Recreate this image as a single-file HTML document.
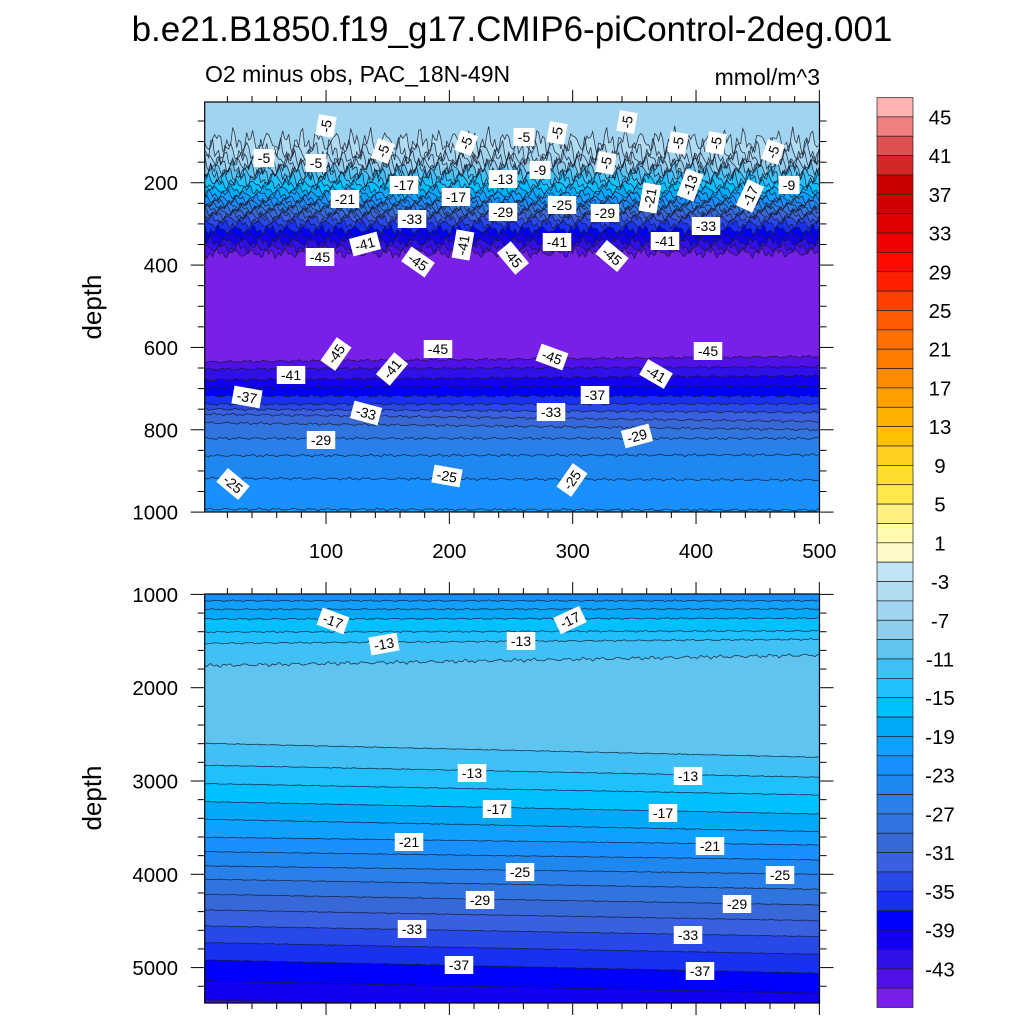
<!DOCTYPE html>
<html><head><meta charset="utf-8">
<style>
html,body{margin:0;padding:0;background:#fff;}
svg{display:block;font-family:"Liberation Sans",Arial,sans-serif;}
</style></head>
<body>
<svg id="chart" width="1024" height="1024" viewBox="0 0 1024 1024" xmlns="http://www.w3.org/2000/svg">
  <text x="512" y="41" font-size="35" text-anchor="middle">b.e21.B1850.f19_g17.CMIP6-piControl-2deg.001</text>
  <text x="205" y="82" font-size="23">O2 minus obs, PAC_18N-49N</text>
  <text x="820" y="85" font-size="23" text-anchor="end">mmol/m^3</text>
  <text x="101" y="307" font-size="26" text-anchor="middle" transform="rotate(-90 101 307)">depth</text>
  <text x="101" y="798" font-size="26" text-anchor="middle" transform="rotate(-90 101 798)">depth</text>
  <g id="gTop"></g>
  <g id="gBot"></g>
  <g id="gCb"></g>
</svg>
<script>
// ---- data ----
const cbColors = ["#ffb3b3","#f08080","#e05050","#d42828","#c80000","#d00000","#e00000","#f00000","#ff0a00","#ff2000","#ff4000","#ff5a00","#ff7000","#ff7c00","#ff8c00","#ffa000","#ffb000","#ffc000","#ffd020","#ffde30","#ffe84a","#fff080","#fffab0","#fffac8","#c0e4f4","#b0dcf2","#a0d4f0","#90ccec","#60c4f0","#40c0f4","#20c0ff","#00c0ff","#00aaf8","#10a0ff","#1890ff","#1e88f0","#2880e8","#3074e0","#3868d8","#3860e0","#2848e8","#1830f0","#0000ff","#1400f0","#3010e8","#5010e8","#7820e8"];
const cbLabels = [45,41,37,33,29,25,21,17,13,9,5,1,-3,-7,-11,-15,-19,-23,-27,-31,-35,-39,-43];

const topAbove = -5.5;
const topLevels = [-5,-5,-5,-7,-9,-11,-13,-15,-17,-19,-21,-23,-25,-27,-29,-31,-33,-35,-37,-39,-41,-43,-45,-45,-43,-41,-39,-37,-35,-33,-31,-29,-27,-25,-23,-21];
const topDepthL = [100,125,142,155,167,179,190,204,217,229,240,248,256,263,271,279,288,300,314,329,344,358,372,635,653,679,698,718,738,750,762,783,821,863,918,993];
const topDepthR = [100,125,142,155,167,179,190,204,217,229,240,248,256,263,271,279,288,300,314,329,344,358,370,622,647,669,694,718,737,758,780,800,821,861,922,995];
const topBelow = [-4,-6,-6,-8,-10,-12,-14,-16,-18,-20,-22,-24,-26,-28,-30,-32,-34,-36,-38,-40,-42,-44,-46,-44,-42,-40,-38,-36,-34,-32,-30,-28,-26,-24,-22,-20];

const botAbove = -22;
const botLevels = [-21,-19,-17,-15,-13,-11,-11,-13,-15,-17,-19,-21,-23,-25,-27,-29,-31,-33,-35,-37,-39,-41];
const botDepthL = [1068,1160,1264,1403,1525,1764,2596,2831,3028,3221,3410,3603,3757,3910,4053,4214,4382,4553,4732,4918,5143,5347];
const botDepthR = [1068,1156,1256,1392,1481,1650,2746,2960,3150,3354,3543,3686,3846,4000,4161,4329,4497,4668,4857,5061,5275,5480];
const botBelow = [-20,-18,-16,-14,-12,-10,-12,-14,-16,-18,-20,-22,-24,-26,-28,-30,-32,-34,-36,-38,-40,-42];

const xTickValues = [100,200,300,400,500];
const topYTicks = [200,400,600,800,1000];
const botYTicks = [1000,2000,3000,4000,5000];

// contour label layout: [px, py, text, rotation]
const topLabelLayout = [[326,126,"-5",-80],[264,158,"-5",0],[316,163,"-5",0],[383,151,"-5",-70],[466,143,"-5",-70],[524,137,"-5",0],[557,133,"-5",-80],[627,122,"-5",-80],[606,163,"-5",-80],[678,143,"-5",-80],[716,143,"-5",-80],[773,152,"-5",-70],[345,199,"-21",0],[404,185,"-17",0],[456,197,"-17",0],[503,179,"-13",0],[540,170,"-9",0],[503,212,"-29",0],[562,205,"-25",0],[605,213,"-29",0],[650,198,"-21",-80],[690,185,"-13",-70],[750,196,"-17",-65],[789,185,"-9",0],[412,219,"-33",0],[706,226,"-33",0],[365,244,"-41",-15],[463,245,"-41",-80],[557,242,"-41",0],[665,241,"-41",0],[320,257,"-45",0],[418,262,"-45",35],[513,258,"-45",50],[612,256,"-45",40],[438,349,"-45",0],[336,354,"-45",-55],[552,357,"-45",20],[708,351,"-45",0],[392,369,"-41",-50],[291,375,"-41",0],[656,374,"-41",30],[595,395,"-37",0],[247,397,"-37",10],[366,413,"-33",15],[551,412,"-33",0],[321,440,"-29",0],[637,436,"-29",-15],[233,484,"-25",40],[447,476,"-25",10],[572,480,"-25",-55]];
const botLabelLayout = [[333,621,"-17",20],[384,644,"-13",-10],[521,641,"-13",0],[570,620,"-17",-25],[472,773,"-13",0],[497,809,"-17",0],[663,813,"-17",0],[688,776,"-13",0],[409,842,"-21",0],[710,846,"-21",0],[520,872,"-25",0],[780,875,"-25",0],[480,900,"-29",0],[737,904,"-29",0],[412,929,"-33",0],[688,935,"-33",0],[459,965,"-37",0],[700,971,"-37",0]];

// ---- geometry ----
const NS = "http://www.w3.org/2000/svg";
const X0 = 204.7, X1 = 819.5;
const xScale = v => 202.7 + v * 1.2333;
const topY = d => 100.4 + d * 0.4117;
const botY = d => 594.4 + (d - 1000) * 0.0933;
const TOP = {y0:102, y1:512, yf:topY, d0:4, d1:1000};
const BOT = {y0:594, y1:1003, yf:botY, d0:1000, d1:5375};

function el(tag, attrs, parent){
  const e = document.createElementNS(NS, tag);
  for (const k in attrs) e.setAttribute(k, attrs[k]);
  parent.appendChild(e);
  return e;
}
function colorFor(v){
  let i = Math.floor((47 - v) / 2);
  if (v > 45) i = 0;
  i = Math.max(0, Math.min(46, i));
  return cbColors[i];
}
function wig(x, i){
  return Math.sin(x*0.37+i*1.7)*0.45 + Math.sin(x*0.91+i*0.4)*0.3 + Math.sin(x*2.13+i*2.9)*0.25;
}
function linePts(P, dl, dr, i, amp){
  const pts = [];
  for (let px = X0; px <= X1 + 0.01; px += 2){
    const t = (px - X0) / (X1 - X0);
    let y = P.yf(dl + (dr - dl) * t) + amp * wig(px, i);
    y = Math.max(P.y0, Math.min(P.y1, y));
    pts.push([px, y]);
  }
  return pts;
}
function drawPanel(g, P, above, levels, dL, dR, below, ampF, name){
  const clipId = name + "-clip";
  const cp = el("clipPath", {id: clipId}, g);
  el("rect", {x:X0, y:P.y0, width:X1-X0, height:P.y1-P.y0}, cp);
  const fillG = el("g", {"clip-path":"url(#"+clipId+")"}, g);
  
  
  const bg = el("rect", {x:X0, y:P.y0, width:X1-X0, height:P.y1-P.y0, fill:colorFor(above)}, fillG);
  
  
  const lines = [];
  for (let i = 0; i < levels.length; i++){
    const pts = linePts(P, dL[i], dR[i], i, ampF(i, dL[i]));
    lines.push(pts);
    const d = "M" + pts.map(p => p[0].toFixed(1)+","+p[1].toFixed(1)).join("L") + "L"+X1+","+P.y1+"L"+X0+","+P.y1+"Z";
    const band = el("path", {d:d, fill:colorFor(below[i])}, fillG);
    
    
  }
  for (let i = 0; i < lines.length; i++){
    const d = "M" + lines[i].map(p => p[0].toFixed(1)+","+p[1].toFixed(1)).join("L");
    const ln = el("path", {d:d, fill:"none", stroke:"#1a1a2a", "stroke-width":"0.8", "stroke-opacity":"0.85"}, fillG);
    
    
  }
  const fr = el("rect", {x:X0, y:P.y0, width:X1-X0, height:P.y1-P.y0, fill:"none", stroke:"#000", "stroke-width":"1.2"}, g);
  
  
}
function drawLabels(g, layout, name){
  layout.forEach(L => {
    const lg = el("g", {transform:"translate("+L[0]+","+L[1]+") rotate("+L[3]+")"}, g);
    
    
    const w = L[2].length * 7.5 + 6;
    el("rect", {x:-w/2, y:-9, width:w, height:18, fill:"#fff"}, lg);
    const t = el("text", {x:0, y:5, "font-size":"14", "text-anchor":"middle"}, lg);
    t.textContent = L[2];
  });
}
function drawTicks(g, P, yMajor, yMinorStep, yLabels, xLabels, name){
  const tg = el("g", {stroke:"#000", "stroke-width":"1"}, g);
  
  
  for (let v = 20; v <= 500; v += 20){
    const x = xScale(v), len = (v % 100 === 0) ? 12 : 6;
    el("line", {x1:x, x2:x, y1:P.y0, y2:P.y0-len}, tg);
    el("line", {x1:x, x2:x, y1:P.y1, y2:P.y1+len}, tg);
  }
  for (let d = Math.ceil(P.d0 / yMinorStep) * yMinorStep; d <= P.d1; d += yMinorStep){
    const y = P.yf(d);
    if (y < P.y0 - 0.5 || y > P.y1 + 0.5) continue;
    const len = yMajor.includes(d) ? 14 : 7;
    el("line", {x1:X0, x2:X0-len, y1:y, y2:y}, tg);
    el("line", {x1:X1, x2:X1+len, y1:y, y2:y}, tg);
  }
  yMajor.forEach(d => {
    const t = el("text", {x:178, y:P.yf(d)+7.5, "font-size":"20.5", "text-anchor":"end"}, g);
    
    
    t.textContent = d;
  });
  if (xLabels){
    xLabels.forEach(v => {
      const t = el("text", {x:xScale(v), y:558, "font-size":"20.5", "text-anchor":"middle"}, g);
      
      
      t.textContent = v;
    });
  }
}

const gTop = document.getElementById("gTop");
drawPanel(gTop, TOP, topAbove, topLevels, topDepthL, topDepthR, topBelow,
  (i, d) => d < 130 ? 16 : (d < 200 ? 11 : (d < 400 ? 6 : 1.6)), "top");
drawLabels(gTop, topLabelLayout, "top");
drawTicks(gTop, TOP, topYTicks, 50, topYTicks, xTickValues, "top");

const gBot = document.getElementById("gBot");
drawPanel(gBot, BOT, botAbove, botLevels, botDepthL, botDepthR, botBelow,
  (i, d) => (i === 5 ? 2.2 : (d < 2000 ? 1.0 : 0.5)), "bottom");
drawLabels(gBot, botLabelLayout, "bottom");
drawTicks(gBot, BOT, botYTicks, 200, botYTicks, null, "bottom");

// colorbar
const gCb = document.getElementById("gCb");
const CB_X = 877, CB_W = 36, CB_Y0 = 97.5, CB_Y1 = 1007.5;
const boxH = (CB_Y1 - CB_Y0) / cbColors.length;
cbColors.forEach((c, i) => {
  const r = el("rect", {x:CB_X, y:CB_Y0 + i*boxH, width:CB_W, height:boxH, fill:c, stroke:"#222", "stroke-width":"0.7"}, gCb);
  
  
});
cbLabels.forEach(v => {
  const i = (45 - v) / 2 + 1;
  const t = el("text", {x:940, y:CB_Y0 + i*boxH + 7.5, "font-size":"20.5", "text-anchor":"middle"}, gCb);
  
  
  t.textContent = v;
});
</script>
</body></html>
